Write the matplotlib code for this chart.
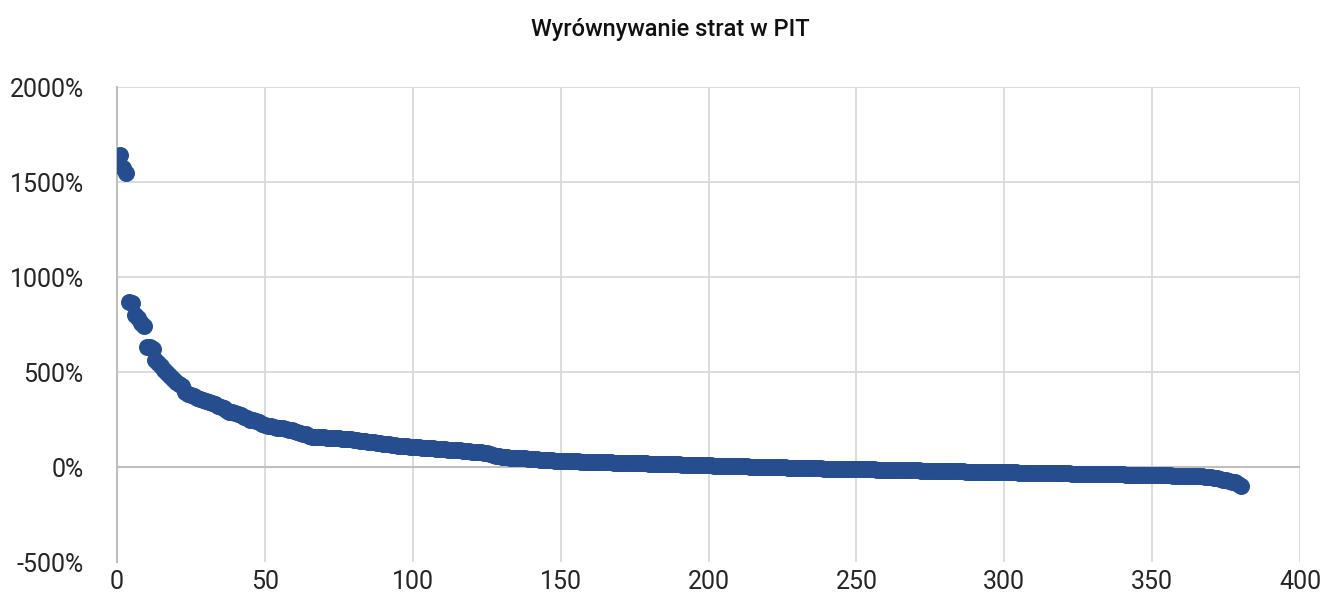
import matplotlib
matplotlib.use("Agg")
import matplotlib.pyplot as plt
from matplotlib.ticker import FuncFormatter

plt.rcParams['font.family'] = ['Roboto', 'DejaVu Sans']

# loss-offset ratio (%) per taxpayer group, sorted descending
values_pct = [
    1640, 1575, 1545, 870, 865, 800, 785, 760, 740, 630,
    630, 620, 565, 545, 530, 510, 495, 480, 462, 450,
    435, 425, 395, 385, 378, 372, 365, 360, 352, 345,
    340, 335, 330, 322, 318, 312, 300, 292, 288, 283,
    278, 272, 265, 258, 250, 245, 240, 235, 228, 222,
    218, 214, 210, 207, 205, 203, 200, 197, 194, 190,
    186, 180, 176, 172, 163, 160, 159, 158, 157, 156,
    155, 154, 153, 152, 151, 150, 149, 147, 145, 143,
    141, 139, 137, 135, 133, 131, 129, 127, 125, 123,
    121, 119, 117, 115, 113, 111, 109, 108, 107, 105,
    104, 103, 102, 101, 100, 99, 98, 97, 96, 95,
    94, 92, 91, 90, 88, 87, 85, 84, 82, 80,
    79, 78, 77, 75, 72, 68, 64, 60, 57, 55,
    53, 52, 50, 49, 48, 47, 46, 45, 44, 42,
    41, 40, 39, 38, 37, 36, 35, 34, 33, 32,
    31, 31, 30, 30, 29, 29, 28, 28, 27, 27,
    26, 26, 25, 25, 25, 24, 24, 23, 23, 22,
    22, 21, 21, 21, 20, 20, 19, 19, 19, 18,
    18, 17, 17, 16, 16, 16, 15, 15, 14, 14,
    13, 13, 12, 12, 11, 11, 10, 10, 9, 8,
    8, 7, 7, 6, 6, 6, 5, 5, 4, 4,
    4, 3, 3, 2, 2, 2, 1, 1, 0, 0,
    0, -1, -1, -2, -2, -2, -3, -3, -4, -4,
    -4, -5, -5, -6, -6, -6, -7, -7, -8, -8,
    -8, -9, -9, -9, -10, -10, -10, -11, -11, -11,
    -12, -12, -12, -13, -13, -13, -14, -14, -14, -15,
    -15, -15, -16, -16, -16, -17, -17, -17, -18, -18,
    -18, -19, -19, -19, -20, -20, -20, -21, -21, -21,
    -22, -22, -22, -23, -23, -23, -24, -24, -24, -25,
    -25, -25, -25, -26, -26, -26, -26, -27, -27, -27,
    -27, -28, -28, -28, -29, -29, -29, -30, -30, -30,
    -31, -31, -31, -32, -32, -32, -33, -33, -33, -34,
    -34, -34, -35, -35, -35, -36, -36, -36, -37, -37,
    -37, -37, -38, -38, -38, -38, -39, -39, -39, -39,
    -40, -40, -40, -41, -41, -41, -42, -42, -42, -42,
    -43, -43, -43, -44, -44, -44, -45, -45, -45, -46,
    -46, -46, -47, -47, -48, -48, -49, -50,
    -52, -54, -57, -60, -64, -67, -70, -73, -77, -81, -88, -102,
]
ranks = list(range(1, len(values_pct) + 1))

x_ticks = [0, 50, 100, 150, 200, 250, 300, 350, 400]
y_ticks = [-500, 0, 500, 1000, 1500, 2000]

fig = plt.figure(figsize=(13.24, 5.98), dpi=100)
ax = fig.add_axes([0.0884, 0.0602, 0.8935, 0.7943])

ax.scatter(ranks, values_pct, s=150, color='#264e8f', linewidths=0, zorder=3)

ax.set_xlim(0, 400)
ax.set_ylim(-500, 2000)
ax.set_xticks(x_ticks)
ax.set_yticks(y_ticks)
ax.yaxis.set_major_formatter(FuncFormatter(lambda v, p: f"{v:.0f}%"))

for v in x_ticks[1:]:
    ax.axvline(v, color='#d9d9d9', lw=1.3, zorder=1)
for v in y_ticks[2:]:
    ax.axhline(v, color='#d9d9d9', lw=1.3, zorder=1)
ax.axhline(0, color='#bfbfbf', lw=1.5, zorder=2)

for side in ['top', 'right', 'bottom']:
    ax.spines[side].set_visible(False)
ax.spines['left'].set_color('#bfbfbf')
ax.spines['left'].set_linewidth(1.5)

ax.tick_params(axis='both', length=0, labelsize=18, colors='#262626')
ax.tick_params(axis='y', pad=24)
ax.tick_params(axis='x', pad=6)

fig.text(0.506, 0.95, "Wyrównywanie strat w PIT", ha='center', va='center',
         fontsize=17, fontweight='medium', color='#111111')

fig.savefig("out.png", dpi=100)
